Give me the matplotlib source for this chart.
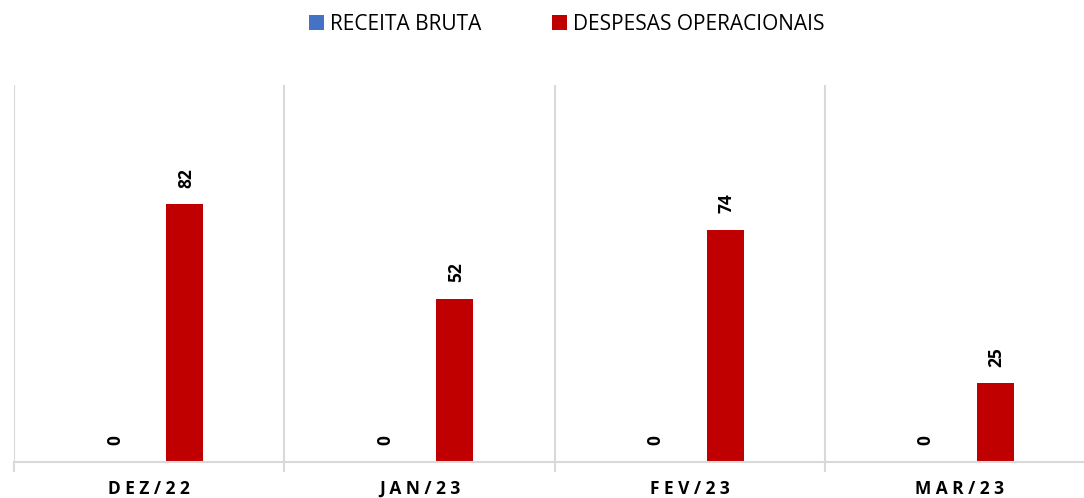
import matplotlib.pyplot as plt
import numpy as np

meses = ["DEZ/22", "JAN/23", "FEV/23", "MAR/23"]
receita = [0, 0, 0, 0]
despesas = [82, 52, 74, 25]

plt.rcParams['font.family'] = ['Open Sans', 'DejaVu Sans']

fig = plt.figure(figsize=(10.84, 4.98), dpi=100)
ax = fig.add_axes([14/1084, 36/498, 1081/1084, 377/498])

x = np.arange(len(meses))
w = 0.137
off = 0.131
b1 = ax.bar(x - off, receita, w, color='#4472c4', label='RECEITA BRUTA')
b2 = ax.bar(x + off, despesas, w, color='#c00000', label='DESPESAS OPERACIONAIS')

for bars in (b1, b2):
    for r in bars:
        h = r.get_height()
        ax.annotate(f"{h:g}", (r.get_x() + r.get_width()/2, h),
                    xytext=(1, 12), textcoords='offset points',
                    rotation=90, ha='center', va='bottom',
                    fontsize=12.5, fontweight='bold')

ax.set_xlim(-0.5, 3.5)
ax.set_ylim(0, 120)
ax.set_yticks([])
ax.set_xticks(np.arange(-0.5, 4, 1))
ax.set_xticklabels([])
ax.set_xticks(x, minor=True)
ax.set_xticklabels([" ".join(m) for m in meses], minor=True,
                   fontsize=12.5, fontweight='bold')
ax.tick_params(axis='x', which='major', length=7, color='#d9d9d9', width=1.5)
ax.tick_params(axis='x', which='minor', length=0, pad=13)
ax.grid(axis='x', which='major', color='#d9d9d9', linewidth=1.5)
ax.set_axisbelow(True)
for s in ['top', 'right', 'left']:
    ax.spines[s].set_visible(False)
ax.spines['bottom'].set_color('#d9d9d9')
ax.spines['bottom'].set_linewidth(1.5)

fig.legend(loc='upper center', bbox_to_anchor=(0.523, 1.01), ncol=2, frameon=False,
           fontsize=15, handlelength=0.7, handleheight=0.7, columnspacing=3.4,
           handletextpad=0.3)

fig.savefig('out.png')
